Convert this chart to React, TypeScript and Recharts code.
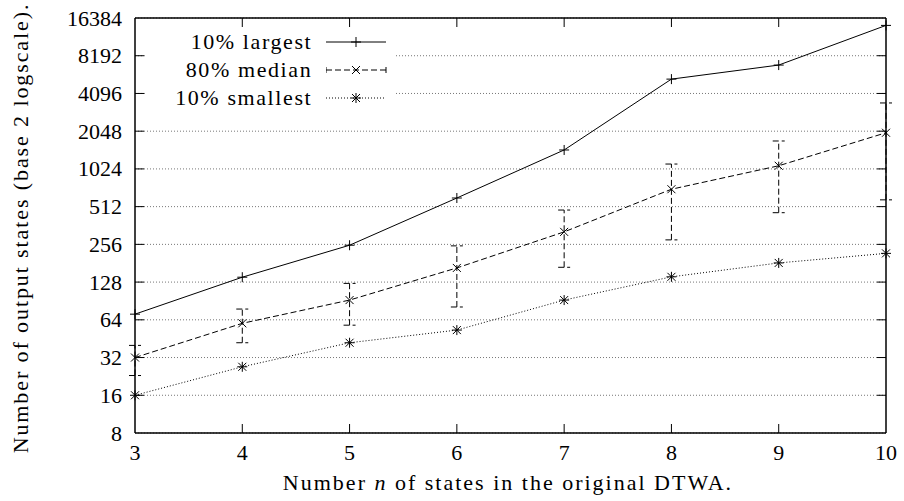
import React from "react";
import {
  LineChart,
  Line,
  XAxis,
  YAxis,
  CartesianGrid,
  ErrorBar,
} from "recharts";

const statesN = [3, 4, 5, 6, 7, 8, 9, 10];
const largest10 = [71, 140, 252, 600, 1450, 5330, 6900, 14300];
const median80 = [32, 60, 92, 166, 322, 705, 1085, 1990];
const medianLow = [23, 42, 58, 81, 168, 278, 458, 580];
const medianHigh = [40, 78, 125, 249, 481, 1120, 1710, 3440];
const smallest10 = [16, 27, 42, 53, 92, 141, 182, 217];

const yTicks = [8, 16, 32, 64, 128, 256, 512, 1024, 2048, 4096, 8192, 16384];
const xTicks = [3, 4, 5, 6, 7, 8, 9, 10];

const data = statesN.map((n, i) => ({
  n,
  largest: largest10[i],
  median: median80[i],
  medErr: [median80[i] - medianLow[i], medianHigh[i] - median80[i]],
  smallest: smallest10[i],
}));

const FONT = "'Liberation Serif', serif";
const FS = 22;
const TICK = 9;

function Plus({ cx, cy }: any) {
  return (
    <g stroke="#000" strokeWidth={1}>
      <line x1={cx - 5} y1={cy} x2={cx + 5} y2={cy} />
      <line x1={cx} y1={cy - 5} x2={cx} y2={cy + 5} />
    </g>
  );
}

function Cross({ cx, cy }: any) {
  return (
    <g stroke="#000" strokeWidth={1}>
      <line x1={cx - 4} y1={cy - 4} x2={cx + 4} y2={cy + 4} />
      <line x1={cx - 4} y1={cy + 4} x2={cx + 4} y2={cy - 4} />
    </g>
  );
}

function Star({ cx, cy }: any) {
  return (
    <g stroke="#000" strokeWidth={1}>
      <line x1={cx - 4} y1={cy - 4} x2={cx + 4} y2={cy + 4} />
      <line x1={cx - 4} y1={cy + 4} x2={cx + 4} y2={cy - 4} />
      <line x1={cx - 5} y1={cy} x2={cx + 5} y2={cy} />
      <line x1={cx} y1={cy - 5} x2={cx} y2={cy + 5} />
    </g>
  );
}

const LeftTick = (p: any) => (
  <g>
    {p.index > 0 && p.index < yTicks.length - 1 && (
      <line x1={p.x} y1={p.y} x2={p.x + TICK} y2={p.y} stroke="#000" />
    )}
    <text x={p.x - 13} y={p.y} dy={7.5} textAnchor="end" fontFamily={FONT} fontSize={FS} fill="#000">
      {p.payload.value}
    </text>
  </g>
);

const RightTick = (p: any) =>
  p.index > 0 && p.index < yTicks.length - 1 ? (
    <line x1={p.x} y1={p.y} x2={p.x - TICK} y2={p.y} stroke="#000" />
  ) : (
    <g />
  );

const BottomTick = (p: any) => (
  <g>
    {p.index > 0 && p.index < xTicks.length - 1 && (
      <line x1={p.x} y1={p.y} x2={p.x} y2={p.y - TICK} stroke="#000" />
    )}
    <text x={p.x} y={p.y + 27} textAnchor="middle" fontFamily={FONT} fontSize={FS} fill="#000">
      {p.payload.value}
    </text>
  </g>
);

const TopTick = (p: any) =>
  p.index > 0 && p.index < xTicks.length - 1 ? (
    <line x1={p.x} y1={p.y} x2={p.x} y2={p.y + TICK} stroke="#000" />
  ) : (
    <g />
  );

function LegendRow({ label, dash, Marker }: any) {
  return (
    <div style={{ display: "flex", alignItems: "center", height: 28 }}>
      <span
        style={{
          width: 167,
          textAlign: "right",
          fontFamily: FONT,
          fontSize: FS,
          letterSpacing: 1.6,
          whiteSpace: "nowrap",
        }}
      >
        {label}
      </span>
      <svg width={70} height={20} style={{ marginLeft: 14 }}>
        <line x1={0} y1={10} x2={60} y2={10} stroke="#000" strokeDasharray={dash} />
        {dash === "6 3" && (
          <>
            <line x1={0} y1={7} x2={0} y2={13} stroke="#000" />
            <line x1={60} y1={7} x2={60} y2={13} stroke="#000" />
          </>
        )}
        <Marker cx={30} cy={10} />
      </svg>
    </div>
  );
}

export default function App() {
  return (
    <div style={{ position: "absolute", left: 0, top: 0, width: 904, height: 501, background: "#fff" }}>
      <LineChart
        width={904}
        height={501}
        data={data}
        margin={{ top: 17, right: 17, bottom: 67, left: 134 }}
      >
        <CartesianGrid
          vertical={false}
          stroke="#777"
          strokeDasharray="1 2"
          yAxisId="left"
          xAxisId="bottom"
        />
        <XAxis
          xAxisId="bottom"
          dataKey="n"
          type="number"
          domain={[3, 10]}
          ticks={xTicks}
          height={1}
          tickSize={0}
          tickMargin={0}
          tickLine={false}
          axisLine={{ stroke: "#000", strokeWidth: 1.5 }}
          tick={<BottomTick />}
          interval={0}
        />
        <XAxis
          xAxisId="top"
          orientation="top"
          dataKey="n"
          type="number"
          domain={[3, 10]}
          ticks={xTicks}
          height={1}
          tickSize={0}
          tickMargin={0}
          tickLine={false}
          axisLine={{ stroke: "#000", strokeWidth: 1.5 }}
          tick={<TopTick />}
          interval={0}
        />
        <YAxis
          yAxisId="left"
          scale="log"
          domain={[8, 16384]}
          allowDataOverflow
          ticks={yTicks}
          width={1}
          tickSize={0}
          tickMargin={0}
          tickLine={false}
          axisLine={{ stroke: "#000", strokeWidth: 1.5 }}
          tick={<LeftTick />}
          interval={0}
        />
        <YAxis
          yAxisId="right"
          orientation="right"
          scale="log"
          domain={[8, 16384]}
          allowDataOverflow
          ticks={yTicks}
          width={1}
          tickSize={0}
          tickMargin={0}
          tickLine={false}
          axisLine={{ stroke: "#000", strokeWidth: 1.5 }}
          tick={<RightTick />}
          interval={0}
        />
        <Line
          xAxisId="bottom"
          yAxisId="left"
          type="linear"
          dataKey="largest"
          stroke="#000"
          strokeWidth={1}
          dot={(p: any) => <Plus key={`l${p.index}`} cx={p.cx} cy={p.cy} />}
          isAnimationActive={false}
        />
        <Line
          xAxisId="bottom"
          yAxisId="left"
          type="linear"
          dataKey="median"
          stroke="#000"
          strokeWidth={1}
          strokeDasharray="6 3"
          dot={(p: any) => <Cross key={`m${p.index}`} cx={p.cx} cy={p.cy} />}
          isAnimationActive={false}
        >
          <ErrorBar
            dataKey="medErr"
            direction="y"
            width={6}
            stroke="#000"
            strokeWidth={1}
            strokeDasharray="6 3"
            isAnimationActive={false}
          />
        </Line>
        <Line
          xAxisId="bottom"
          yAxisId="left"
          type="linear"
          dataKey="smallest"
          stroke="#000"
          strokeWidth={1}
          strokeDasharray="1 2"
          dot={(p: any) => <Star key={`s${p.index}`} cx={p.cx} cy={p.cy} />}
          isAnimationActive={false}
        />
      </LineChart>

      <div
        style={{
          position: "absolute",
          left: 146,
          top: 28,
          width: 250,
          height: 84,
          background: "#fff",
        }}
      >
        <LegendRow label="10% largest" dash="" Marker={Plus} />
        <LegendRow label="80% median" dash="6 3" Marker={Cross} />
        <LegendRow label="10% smallest" dash="1 2" Marker={Star} />
      </div>

      <div
        style={{
          position: "absolute",
          left: 21,
          top: 228,
          transform: "translate(-50%, -50%) rotate(-90deg)",
          whiteSpace: "nowrap",
          fontFamily: FONT,
          fontSize: FS,
          letterSpacing: 1.9,
        }}
      >
        Number of output states (base 2 logscale).
      </div>
      <div
        style={{
          position: "absolute",
          left: 508,
          top: 483,
          transform: "translate(-50%, -50%)",
          whiteSpace: "nowrap",
          fontFamily: FONT,
          fontSize: FS,
          letterSpacing: 2,
        }}
      >
        Number <i>n</i> of states in the original DTWA.
      </div>
    </div>
  );
}
